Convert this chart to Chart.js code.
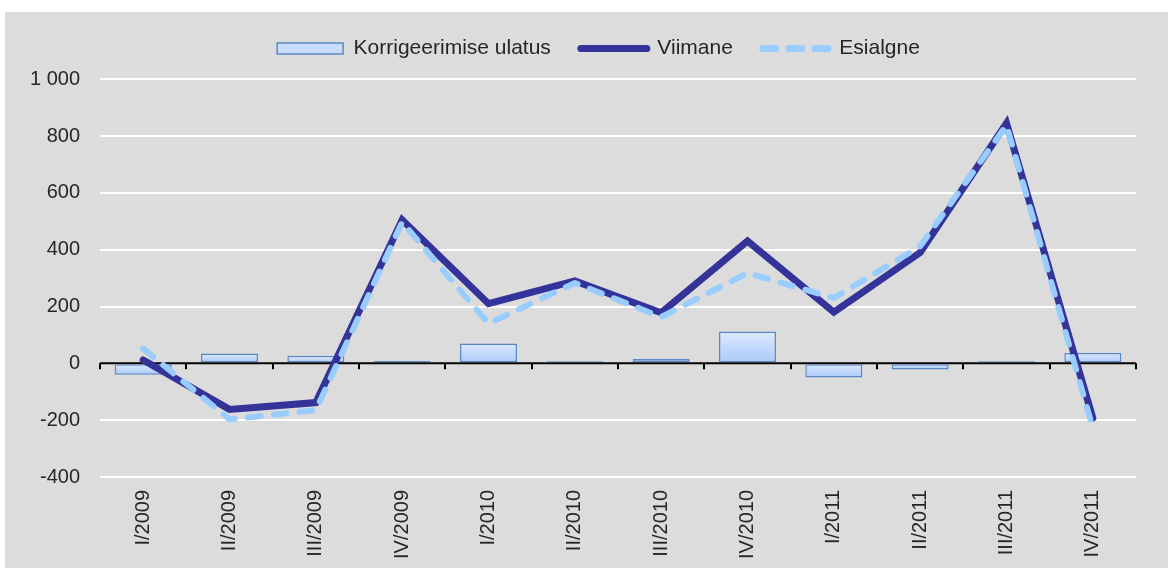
<!DOCTYPE html>
<html>
<head>
<meta charset="utf-8">
<script src="https://cdn.jsdelivr.net/npm/chart.js@4.4.1/dist/chart.umd.min.js"></script>
<style>
  html, body { margin: 0; padding: 0; background: #ffffff; }
  #wrap { position: absolute; left: 5px; top: 12px; width: 1163px; height: 556px; background: #dcdcdc; }
  canvas { display: block; }
</style>
</head>
<body>
<div id="wrap"><canvas id="c" width="1163" height="556"></canvas></div>
<script>
const categories = ['I/2009','II/2009','III/2009','IV/2009','I/2010','II/2010','III/2010','IV/2010','I/2011','II/2011','III/2011','IV/2011'];
const korrigeerimiseUlatus = [-40, 35, 27, 8, 70, 7, 15, 112, -50, -22, 7, 36];
const viimane = [12, -162, -138, 505, 210, 290, 178, 430, 180, 390, 845, -192];
const esialgne = [52, -197, -165, 497, 140, 283, 163, 318, 230, 412, 838, -228];
const seriesNames = ['Korrigeerimise ulatus', 'Viimane', 'Esialgne'];
const yMin = -400, yMax = 1000, yStep = 200;

const FONT = "'Liberation Sans', Arial, sans-serif";
const TEXT = '#262626';

function barGradient(ctx) {
  const chart = ctx.chart;
  const area = chart.chartArea;
  if (!area || ctx.type !== 'data' || !chart.scales.y) return '#c4d9fc';
  const ys = chart.scales.y;
  const y0 = ys.getPixelForValue(0), y1 = ys.getPixelForValue(ctx.raw);
  const top = Math.min(y0, y1), bot = Math.max(y0, y1);
  if (!isFinite(top) || bot - top < 1) return '#c4d9fc';
  const g = chart.ctx.createLinearGradient(0, top, 0, bot);
  g.addColorStop(0, '#dfeaff');
  g.addColorStop(1, '#a9c8fa');
  return g;
}

const zeroAxis = {
  id: 'zeroAxis',
  afterLayout(chart) {
    // centre the legend over the same span as in the original figure
    if (chart.legend) { chart.legend.left += 28; chart.legend.right += 28; }
  },
  beforeDatasetsDraw(chart) {
    const {ctx, chartArea, scales: {x, y}} = chart;
    const y0 = y.getPixelForValue(0);
    const n = categories.length;
    const step = x.getPixelForValue(1) - x.getPixelForValue(0);
    ctx.save();
    ctx.strokeStyle = '#000';
    ctx.lineWidth = 2;
    ctx.beginPath();
    ctx.moveTo(chartArea.left, y0);
    ctx.lineTo(chartArea.right, y0);
    for (let i = 0; i <= n; i++) {
      const px = Math.round(x.getPixelForValue(0) - step / 2 + i * step);
      ctx.moveTo(px, y0);
      ctx.lineTo(px, y0 + 6);
    }
    ctx.stroke();
    ctx.restore();
  }
};

new Chart(document.getElementById('c'), {
  data: {
    labels: categories,
    datasets: [
      {
        type: 'bar',
        label: seriesNames[0],
        data: korrigeerimiseUlatus,
        backgroundColor: barGradient,
        borderColor: '#5a88c4',
        borderWidth: 1.5,
        borderSkipped: false,
        barPercentage: 0.66,
        categoryPercentage: 1.0,
        order: 3
      },
      {
        type: 'line',
        label: seriesNames[1],
        data: viimane,
        borderColor: '#333399',
        backgroundColor: '#333399',
        borderWidth: 7,
        pointRadius: 0,
        tension: 0,
        borderJoinStyle: 'miter',
        borderCapStyle: 'round',
        order: 2
      },
      {
        type: 'line',
        label: seriesNames[2],
        data: esialgne,
        borderColor: '#99ccff',
        backgroundColor: '#99ccff',
        borderWidth: 6,
        borderDash: [13, 13],
        pointRadius: 0,
        tension: 0,
        borderJoinStyle: 'round',
        borderCapStyle: 'round',
        order: 1
      }
    ]
  },
  options: {
    responsive: false,
    animation: false,
    layout: { padding: { top: -4, right: 32, left: 0, bottom: 0 } },
    plugins: {
      tooltip: { enabled: false },
      title: { display: true, text: '', weight: 500, padding: { top: 0, bottom: 9 }, font: { size: 1 } },
      legend: {
        position: 'top',
        labels: {
          usePointStyle: true,
          pointStyleWidth: 66,
          boxHeight: 11,
          padding: 30,
          color: TEXT,
          font: { family: FONT, size: 21 },
          generateLabels(chart) {
            const ds = chart.data.datasets;
            return [
              { text: ds[0].label, datasetIndex: 0, fillStyle: '#c9dcfc', strokeStyle: '#5a88c4', lineWidth: 1.5, pointStyle: 'rect', fontColor: TEXT, hidden: false },
              { text: ds[1].label, datasetIndex: 1, fillStyle: 'rgba(0,0,0,0)', strokeStyle: '#333399', lineWidth: 7, lineCap: 'round', lineDash: [], pointStyle: 'line', fontColor: TEXT, hidden: false },
              { text: ds[2].label, datasetIndex: 2, fillStyle: 'rgba(0,0,0,0)', strokeStyle: '#99ccff', lineWidth: 7, lineCap: 'round', lineDash: [13, 13], pointStyle: 'line', fontColor: TEXT, hidden: false }
            ];
          }
        }
      }
    },
    scales: {
      x: {
        type: 'category',
        offset: true,
        grid: { display: false, drawTicks: false },
        border: { display: false },
        ticks: {
          autoSkip: false,
          minRotation: 90,
          maxRotation: 90,
          padding: 13,
          color: TEXT,
          font: { family: FONT, size: 20 }
        },
        afterFit(scale) { scale.height = 91; }
      },
      y: {
        min: yMin,
        max: yMax,
        grid: {
          drawTicks: false,
          lineWidth: 2,
          color: (c) => (c.tick && c.tick.value === 0) ? 'rgba(0,0,0,0)' : '#ffffff'
        },
        border: { display: false },
        ticks: {
          stepSize: yStep,
          padding: 20,
          color: TEXT,
          font: { family: FONT, size: 20 },
          callback: (v) => String(v).replace(/\B(?=(\d{3})+(?!\d))/g, ' ')
        },
        afterFit(scale) { scale.width = 95; }
      }
    }
  },
  plugins: [zeroAxis]
});
</script>
</body>
</html>
